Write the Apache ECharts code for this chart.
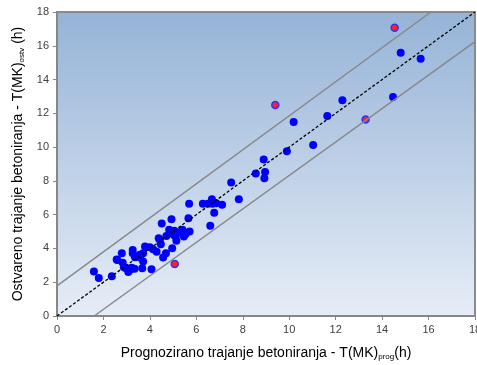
<!DOCTYPE html>
<html>
<head>
<meta charset="utf-8">
<script src="https://cdn.jsdelivr.net/npm/echarts@6/dist/echarts.min.js"></script>
<style>
  html, body { margin: 0; padding: 0; background: #fff; }
  #chart { width: 477px; height: 365px; }
</style>
</head>
<body>
<div id="chart"></div>
<script>
// measured points (prognozirano, ostvareno)
var bluePoints = [
  [1.59, 2.63], [1.80, 2.25], [2.36, 2.35], [2.57, 3.34], [2.60, 3.32], [2.79, 3.71],
  [2.83, 3.16], [2.88, 2.89], [2.97, 2.83], [3.07, 2.61], [3.14, 2.73], [3.21, 2.86],
  [3.34, 2.80], [3.26, 3.91], [3.26, 3.71], [3.36, 3.48], [3.57, 3.62], [3.57, 3.46],
  [3.67, 2.83], [3.71, 3.22], [3.71, 3.71], [3.79, 4.11], [4.00, 4.07], [4.14, 3.95],
  [4.29, 3.81], [4.07, 2.77], [4.38, 4.61], [4.47, 4.25], [4.43, 4.50], [4.51, 5.47],
  [4.57, 3.46], [4.69, 3.71], [4.71, 4.74], [4.83, 5.10], [4.90, 4.95], [4.93, 5.73],
  [4.96, 4.01], [5.00, 5.00], [5.03, 4.80], [5.05, 5.05], [5.11, 4.70], [5.14, 4.46],
  [5.20, 4.95], [5.40, 5.10], [5.46, 4.70], [5.54, 4.86], [5.66, 5.79], [5.71, 5.00],
  [5.69, 6.64], [6.28, 6.64], [6.50, 6.64], [6.67, 6.92], [6.69, 6.64], [6.86, 6.68],
  [7.11, 6.58], [6.77, 6.12], [6.60, 5.35], [7.50, 7.90], [7.83, 6.92],
  [8.56, 8.44], [8.96, 8.52], [8.93, 8.16], [8.90, 9.27], [9.90, 9.76], [11.03, 10.12],
  [10.19, 11.48], [11.64, 11.84], [12.29, 12.78], [14.47, 12.96], [14.80, 15.59], [15.66, 15.23]
];
var redPoints = [[14.54, 17.07], [9.40, 12.49], [13.29, 11.64], [5.07, 3.08]];

var diagLine = [[0, 0], [18, 18]];
var upperLine = [[0, 1.78], [16.1, 18]];
var lowerLine = [[1.6, 0], [18, 16.25]];

var axisTicks = [0, 2, 4, 6, 8, 10, 12, 14, 16, 18];

var chart = echarts.init(document.getElementById('chart'));

var axisCommon = {
  type: 'value',
  min: axisTicks[0],
  max: axisTicks[axisTicks.length - 1],
  interval: axisTicks[1] - axisTicks[0],
  splitLine: { show: false },
  axisLine: { show: true, lineStyle: { color: '#878787', width: 2 } },
  axisTick: { show: true, length: 4, lineStyle: { color: '#878787', width: 1 } },
  axisLabel: { color: '#404040', fontSize: 11, fontFamily: 'Liberation Sans' },
  nameLocation: 'middle',
  nameTextStyle: {
    color: '#000', fontSize: 14, fontFamily: 'Liberation Sans',
    rich: {
      sub: { fontSize: 8, fontFamily: 'Liberation Sans', color: '#000', padding: [7, 0, 0, 0] }
    }
  }
};

chart.setOption({
  animation: false,
  grid: {
    left: 57, top: 12, right: 2, bottom: 49,
    outerBoundsMode: 'none',
    containLabel: false,
    show: true,
    borderColor: '#8a8a8a',
    borderWidth: 2,
    backgroundColor: new echarts.graphic.LinearGradient(0, 0, 0, 1, [
      { offset: 0, color: '#95b3d7' },
      { offset: 1, color: '#e7edf7' }
    ])
  },
  xAxis: Object.assign({}, axisCommon, {
    name: 'Prognozirano trajanje betoniranja - T(MK){sub|prog}(h)',
    nameGap: 30
  }),
  yAxis: Object.assign({}, axisCommon, {
    name: 'Ostvareno trajanje betoniranja - T(MK){sub|ostv} (h)',
    nameGap: 25
  }),
  series: [
    {
      type: 'line', data: upperLine, symbol: 'none', silent: true,
      lineStyle: { color: '#888', width: 1.5 }
    },
    {
      type: 'line', data: lowerLine, symbol: 'none', silent: true,
      lineStyle: { color: '#888', width: 1.5 }
    },
    {
      type: 'line', data: diagLine, symbol: 'none', silent: true,
      lineStyle: { color: '#000', width: 1.3, type: [3, 2] }
    },
    {
      type: 'scatter', data: bluePoints, symbolSize: 8,
      itemStyle: { color: '#0000ff', opacity: 1 }
    },
    {
      type: 'scatter', data: redPoints, symbolSize: 7,
      itemStyle: { color: '#ff2020', borderColor: '#3030ff', borderWidth: 1.5, opacity: 1 }
    }
  ]
});
</script>
</body>
</html>
